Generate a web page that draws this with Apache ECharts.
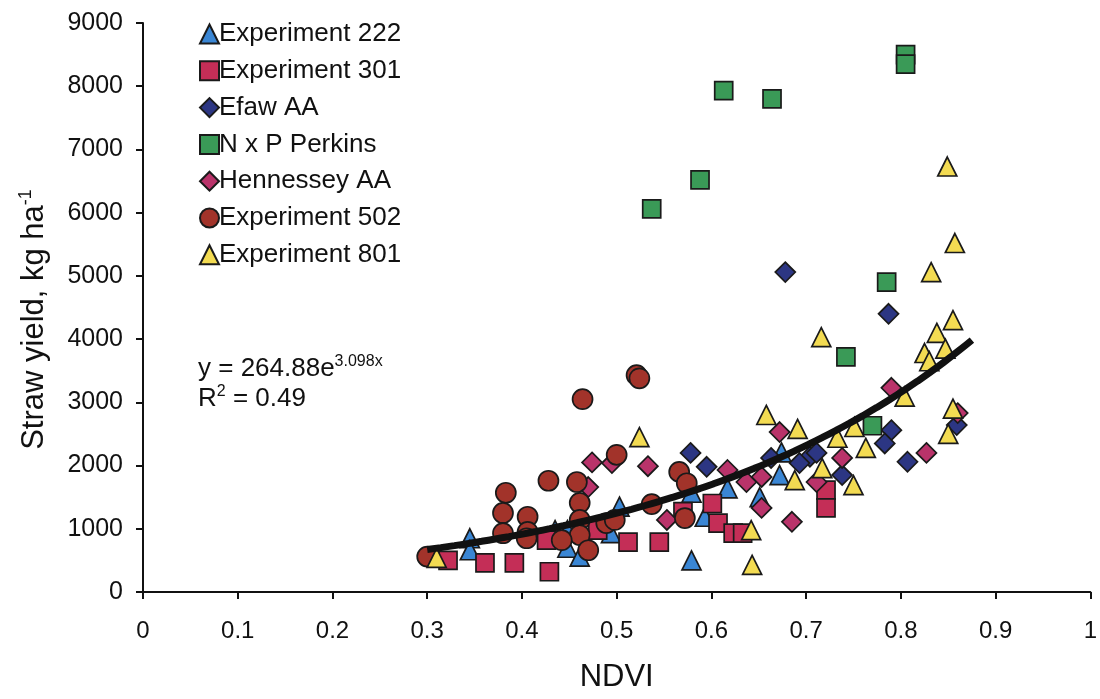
<!DOCTYPE html>
<html>
<head>
<meta charset="utf-8">
<script src="https://cdn.jsdelivr.net/npm/echarts@6/dist/echarts.min.js"></script>
<style>
  html, body { margin: 0; padding: 0; background: #fff; }
  #chart { width: 1100px; height: 699px; }
</style>
</head>
<body>
<div id="chart"></div>
<script>
// NDVI vs straw yield, by experiment
const xTicks = [0, 0.1, 0.2, 0.3, 0.4, 0.5, 0.6, 0.7, 0.8, 0.9, 1];
const yTicks = [0, 1000, 2000, 3000, 4000, 5000, 6000, 7000, 8000, 9000];

const exp222 = [
  [0.345, 850], [0.345, 660], [0.435, 980], [0.448, 980], [0.448, 700], [0.461, 560],
  [0.503, 1350], [0.494, 930], [0.579, 1570], [0.579, 500], [0.593, 1190], [0.617, 1640],
  [0.651, 1500], [0.672, 1850], [0.674, 2210]
];
const exp301 = [
  [0.322, 500], [0.361, 460], [0.392, 460], [0.429, 320], [0.426, 820], [0.512, 790],
  [0.545, 790], [0.570, 1270], [0.601, 1400], [0.607, 1090], [0.623, 930], [0.633, 930],
  [0.721, 1610], [0.721, 1330], [0.480, 980]
];
const efawAA = [
  [0.678, 5060], [0.787, 4400], [0.790, 2560], [0.783, 2350], [0.738, 1850], [0.704, 2140],
  [0.711, 2200], [0.693, 2040], [0.663, 2120], [0.595, 1980], [0.578, 2200], [0.807, 2060],
  [0.859, 2640]
];
const nxpPerkins = [
  [0.537, 6060], [0.588, 6520], [0.613, 7930], [0.664, 7800], [0.805, 8500], [0.805, 8350],
  [0.785, 4900], [0.742, 3720], [0.770, 2630]
];
const hennesseyAA = [
  [0.474, 2050], [0.495, 2040], [0.533, 1990], [0.553, 1140], [0.470, 1660], [0.637, 1740],
  [0.672, 2530], [0.617, 1930], [0.653, 1820], [0.653, 1330], [0.685, 1110], [0.711, 1740],
  [0.738, 2120], [0.790, 3230], [0.827, 2200], [0.860, 2830]
];
const exp502 = [
  [0.300, 560], [0.383, 1570], [0.380, 1250], [0.380, 930], [0.406, 1190], [0.406, 950],
  [0.428, 1760], [0.458, 1740], [0.461, 1410], [0.461, 1140], [0.461, 900], [0.470, 660],
  [0.442, 820], [0.464, 3050], [0.521, 3430], [0.524, 3380], [0.500, 2170], [0.537, 1390],
  [0.489, 1090], [0.498, 1140], [0.566, 1900], [0.574, 1720], [0.572, 1170], [0.405, 850]
];
const exp801 = [
  [0.310, 540], [0.524, 2450], [0.658, 2800], [0.691, 2580], [0.642, 980], [0.643, 430],
  [0.716, 4030], [0.688, 1770], [0.717, 1960], [0.733, 2440], [0.751, 2610], [0.763, 2280],
  [0.750, 1690], [0.849, 6730], [0.857, 5520], [0.832, 5060], [0.855, 4300], [0.838, 4100],
  [0.825, 3780], [0.830, 3650], [0.804, 3090], [0.855, 2900], [0.850, 2500], [0.847, 3850]
];

// Exponential fit shown in the equation label
const TREND_A = 264.88;
const TREND_B = 3.098;
const TREND_R2 = 0.49;
const trendRange = [0.3, 0.875];

const trend = [];
for (let i = 0; i <= 40; i++) {
  const x = trendRange[0] + (trendRange[1] - trendRange[0]) * i / 40;
  trend.push([x, TREND_A * Math.exp(TREND_B * x)]);
}

const FONT = 'Liberation Sans, Arial, sans-serif';
const INK = '#111';

function scatter(name, data, symbol, color, size) {
  return {
    name, type: 'scatter', data, symbol, symbolSize: size,
    itemStyle: { color, borderColor: '#1a1a1a', borderWidth: 1.7, opacity: 1 },
    z: 3
  };
}

const chart = echarts.init(document.getElementById('chart'), null, { renderer: 'canvas' });
chart.setOption({
  backgroundColor: '#fff',
  animation: false,
  textStyle: { fontFamily: FONT },
  grid: { left: 143, right: 9, top: 23, bottom: 107, containLabel: false },
  xAxis: {
    type: 'value', min: 0, max: 1, interval: 0.1,
    name: 'NDVI', nameLocation: 'middle', nameGap: 70,
    nameTextStyle: { fontSize: 31, color: INK, fontFamily: FONT },
    axisLine: { show: true, onZero: false, lineStyle: { color: INK, width: 2 } },
    axisTick: { show: true, length: 7, lineStyle: { color: INK, width: 2 } },
    axisLabel: {
      fontSize: 24, color: INK, margin: 27, fontFamily: FONT,
      formatter: v => {
        const t = xTicks.find(k => Math.abs(k - v) < 1e-6);
        if (t === undefined) return '';
        return (t === 0 || t === 1) ? String(t) : t.toFixed(1);
      }
    },
    splitLine: { show: false }
  },
  yAxis: {
    type: 'value', min: 0, max: 9000, interval: 1000,
    name: '{m|Straw yield, kg ha}{s|-1}', nameLocation: 'middle', nameGap: 92,
    nameTextStyle: {
      fontSize: 31, color: INK, fontFamily: FONT, padding: [0, 24, 0, 0],
      rich: {
        m: { fontSize: 31, color: INK, fontFamily: FONT },
        s: { fontSize: 18, color: INK, fontFamily: FONT, verticalAlign: 'top', padding: [0, 0, 16, 0] }
      }
    },
    axisLine: { show: true, onZero: false, lineStyle: { color: INK, width: 2 } },
    axisTick: { show: true, length: 7, lineStyle: { color: INK, width: 2 } },
    axisLabel: {
      fontSize: 25, color: INK, margin: 20, fontFamily: FONT,
      formatter: v => yTicks.includes(v) ? String(v) : ''
    },
    splitLine: { show: false }
  },
  legend: {
    orient: 'vertical', left: 194, top: 15,
    itemWidth: 19, itemHeight: 19, itemGap: 8.8,
    textStyle: { fontSize: 26, lineHeight: 28, color: INK, fontFamily: FONT, padding: [0, 0, 0, -5] },
    data: [
      { name: 'Experiment 222', icon: 'triangle' },
      { name: 'Experiment 301', icon: 'rect' },
      { name: 'Efaw AA', icon: 'diamond' },
      { name: 'N x P Perkins', icon: 'rect' },
      { name: 'Hennessey AA', icon: 'diamond' },
      { name: 'Experiment 502', icon: 'circle' },
      { name: 'Experiment 801', icon: 'triangle' }
    ]
  },
  graphic: [
    {
      type: 'text', left: 198, top: 354, z: 10,
      style: {
        text: '{m|y = ' + TREND_A.toFixed(2) + 'e}{s|' + TREND_B.toFixed(3) + 'x}\n{m|R}{s|2}{m| = ' + TREND_R2.toFixed(2) + '}',
        fontFamily: FONT, fill: INK,
        rich: {
          m: { fontSize: 26, fontFamily: FONT, fill: INK, lineHeight: 30 },
          s: { fontSize: 16, fontFamily: FONT, fill: INK, verticalAlign: 'top', lineHeight: 18 }
        }
      }
    }
  ],
  series: [
    scatter('Experiment 222', exp222, 'triangle', '#3a86d4', 19),
    scatter('Experiment 301', exp301, 'rect', '#c42e57', 18),
    scatter('Efaw AA', efawAA, 'diamond', '#2c3683', 20),
    scatter('N x P Perkins', nxpPerkins, 'rect', '#3a9a57', 18),
    scatter('Hennessey AA', hennesseyAA, 'diamond', '#b9336a', 20),
    scatter('Experiment 502', exp502, 'circle', '#a2332a', 20),
    scatter('Experiment 801', exp801, 'triangle', '#f3db52', 19),
    {
      name: 'trend', type: 'line', data: trend, smooth: true, showSymbol: false,
      lineStyle: { color: INK, width: 7 }, z: 5, silent: true
    }
  ]
});
</script>
</body>
</html>
